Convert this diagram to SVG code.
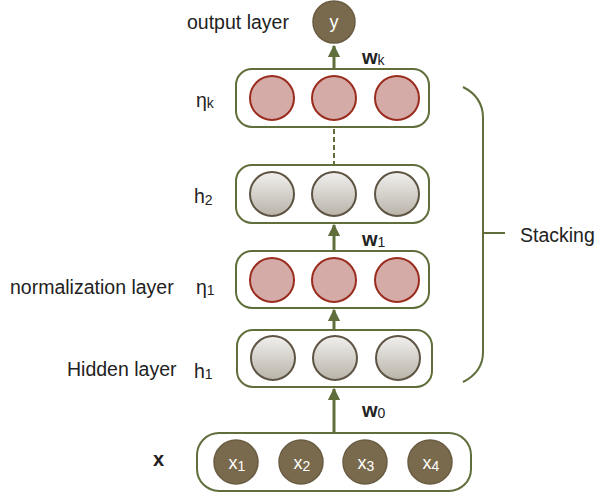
<svg xmlns="http://www.w3.org/2000/svg" width="608" height="496" viewBox="0 0 608 496">
  <style>
    text { font-family: "Liberation Sans", "Noto Sans", sans-serif; fill: #222; }
    .lbl { font-size: 19.5px; }
    .w { font-size: 20px; font-weight: bold; }
    .sub { font-size: 14px; font-weight: normal; }
    .box { fill: #fff; stroke: #5f6e3a; stroke-width: 2; }
    .pink { fill: #d5aba8; stroke: #9a2c1e; stroke-width: 2; }
    .gray { fill: url(#grayGrad); stroke: #5e5443; stroke-width: 2; }
    .dark { fill: #7a6a4d; stroke: #6a5c42; stroke-width: 1.5; }
    .dtxt { fill: #fff; font-size: 18px; }
    .edge { stroke: #5f6e3a; stroke-width: 3; fill: none; }
  </style>
  <defs>
    <linearGradient id="grayGrad" x1="0" y1="0" x2="0" y2="1">
      <stop offset="0" stop-color="#f1f0ee"/>
      <stop offset="1" stop-color="#b9b3a9"/>
    </linearGradient>
    <marker id="arrow" viewBox="0 0 10 10" refX="9" refY="5" markerWidth="4.2" markerHeight="4.2" orient="auto" markerUnits="strokeWidth">
      <path d="M0,0 L10,5 L0,10 Z" fill="#5f6e3a"/>
    </marker>
  </defs>

  <!-- connectors -->
  <g id="connectors">
    <line class="edge" x1="334" y1="433" x2="334" y2="389" marker-end="url(#arrow)"/>
    <line class="edge" x1="334" y1="330" x2="334" y2="310" marker-end="url(#arrow)"/>
    <line class="edge" x1="334" y1="251" x2="334" y2="225" marker-end="url(#arrow)"/>
    <line x1="334" y1="129" x2="334" y2="165" stroke="#5f6e3a" stroke-width="2" stroke-dasharray="5,3"/>
    <line class="edge" x1="334" y1="69" x2="334" y2="46" marker-end="url(#arrow)"/>
    <!-- stacking bracket -->
    <path d="M463,87 Q483,97 483,118 L483,352 Q483,372 463,382" fill="none" stroke="#5f6e3a" stroke-width="2"/>
    <line x1="483" y1="233" x2="505" y2="233" stroke="#5f6e3a" stroke-width="2"/>
  </g>

  <!-- output node -->
  <g id="output">
    <circle class="dark" cx="334" cy="22" r="21"/>
    <text class="dtxt" x="334" y="28" text-anchor="middle" font-size="20">y</text>
    <text class="lbl" x="187" y="29">output layer</text>
  </g>

  <!-- eta_k layer -->
  <g id="eta-k">
    <rect class="box" x="236" y="69" width="193" height="58" rx="16"/>
    <circle class="pink" cx="272" cy="98" r="22"/>
    <circle class="pink" cx="334" cy="98" r="22"/>
    <circle class="pink" cx="397" cy="98" r="22"/>
    <text class="lbl" x="196" y="107">η<tspan class="sub" dy="1">k</tspan></text>
    <text class="w" x="362" y="64">w<tspan class="sub" dy="1">k</tspan></text>
  </g>

  <!-- h2 layer -->
  <g id="h2">
    <rect class="box" x="236" y="165" width="193" height="58" rx="16"/>
    <circle class="gray" cx="272" cy="194" r="22"/>
    <circle class="gray" cx="334" cy="194" r="22"/>
    <circle class="gray" cx="397" cy="194" r="22"/>
    <text class="lbl" x="194" y="203">h<tspan class="sub" dy="2">2</tspan></text>
    <text class="w" x="362" y="246">w<tspan class="sub" dy="1">1</tspan></text>
  </g>

  <!-- eta_1 layer -->
  <g id="eta-1">
    <rect class="box" x="236" y="251" width="193" height="57" rx="16"/>
    <circle class="pink" cx="272" cy="280" r="22"/>
    <circle class="pink" cx="334" cy="280" r="22"/>
    <circle class="pink" cx="397" cy="280" r="22"/>
    <text class="lbl" x="10" y="294" font-size="20">normalization layer</text>
    <text class="lbl" x="196" y="294">η<tspan class="sub" dy="1">1</tspan></text>
  </g>

  <!-- h1 layer -->
  <g id="h1">
    <rect class="box" x="237" y="330" width="195" height="57" rx="16"/>
    <circle class="gray" cx="273" cy="358" r="22"/>
    <circle class="gray" cx="335" cy="358" r="22"/>
    <circle class="gray" cx="398" cy="358" r="22"/>
    <text class="lbl" x="67" y="376">Hidden layer</text>
    <text class="lbl" x="194" y="378">h<tspan class="sub" dy="1">1</tspan></text>
    <text class="w" x="362" y="417">w<tspan class="sub" dy="1">0</tspan></text>
  </g>

  <!-- input layer -->
  <g id="input">
    <rect class="box" x="197" y="433" width="274" height="58" rx="22"/>
    <circle class="dark" cx="236" cy="462" r="22"/>
    <circle class="dark" cx="301" cy="462" r="22"/>
    <circle class="dark" cx="365" cy="462" r="22"/>
    <circle class="dark" cx="430" cy="462" r="22"/>
    <text class="dtxt" x="237" y="469" text-anchor="middle">x<tspan class="sub" dy="2">1</tspan></text>
    <text class="dtxt" x="302" y="469" text-anchor="middle">x<tspan class="sub" dy="2">2</tspan></text>
    <text class="dtxt" x="366" y="469" text-anchor="middle">x<tspan class="sub" dy="2">3</tspan></text>
    <text class="dtxt" x="431" y="469" text-anchor="middle">x<tspan class="sub" dy="2">4</tspan></text>
    <text class="w" x="153" y="466" font-size="18">x</text>
  </g>

  <text class="lbl" x="520" y="242" font-size="20">Stacking</text>
</svg>
